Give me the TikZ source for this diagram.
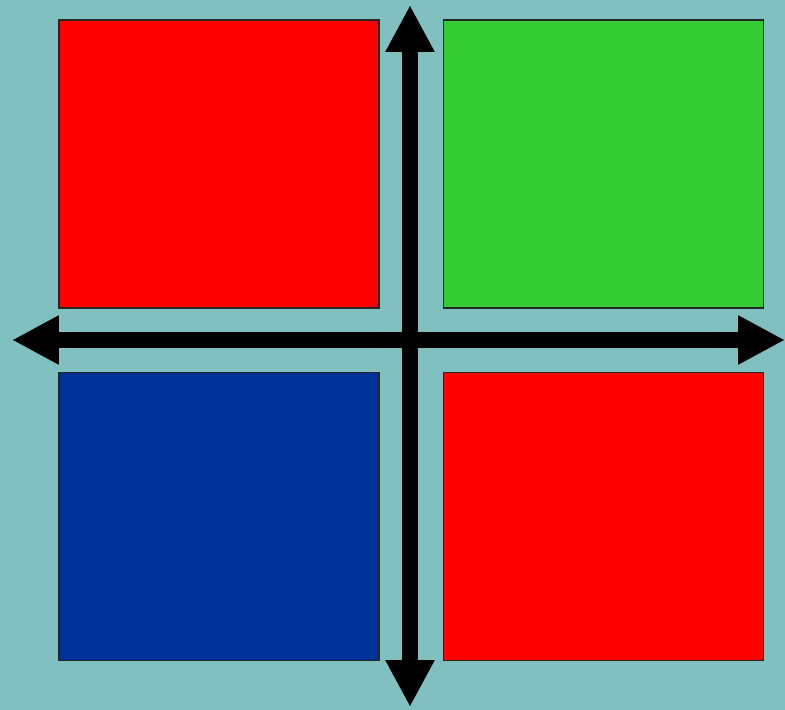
\documentclass[tikz,border=0pt]{standalone}
\usepackage{tikz}
\usetikzlibrary{arrows.meta, positioning}
\definecolor{bgteal}{RGB}{128,192,192}
\definecolor{qred}{RGB}{255,0,0}
\definecolor{qgreen}{RGB}{51,204,51}
\definecolor{qblue}{RGB}{0,51,153}
\begin{document}
\begin{tikzpicture}[
        x=0.02cm, y=-0.02cm,
        node distance=1.26cm,
        quad/.style={rectangle, minimum width=6.4cm, minimum height=5.76cm, inner sep=0pt, draw=black!85, line width=0.8pt},
        axis/.style={line width=0.31cm, {Triangle[length=0.94cm, width=0.92cm]}-{Triangle[length=0.94cm, width=0.92cm]}}
    ]

    % Background
    \fill[bgteal] (0,0) rectangle (785,710);
    \useasboundingbox (0,0) rectangle (785,710);

    % Quadrant boxes
    \node[quad, fill=qred] (tl) at (219,164) {};
    \node[quad, fill=qgreen, right=of tl] (tr) {};
    \node[quad, fill=qblue, below=of tl] (bl) {};
    \node[quad, fill=qred, below=of tr] (br) {};

    % Axis ends
    \coordinate (west) at (12,340);
    \coordinate (east) at (785,340);
    \coordinate (north) at (410,5);
    \coordinate (south) at (410,707);

    % Axes
    \draw[axis] (west) -- (east);
    \draw[axis] (north) -- (south);

\end{tikzpicture}
\end{document}
